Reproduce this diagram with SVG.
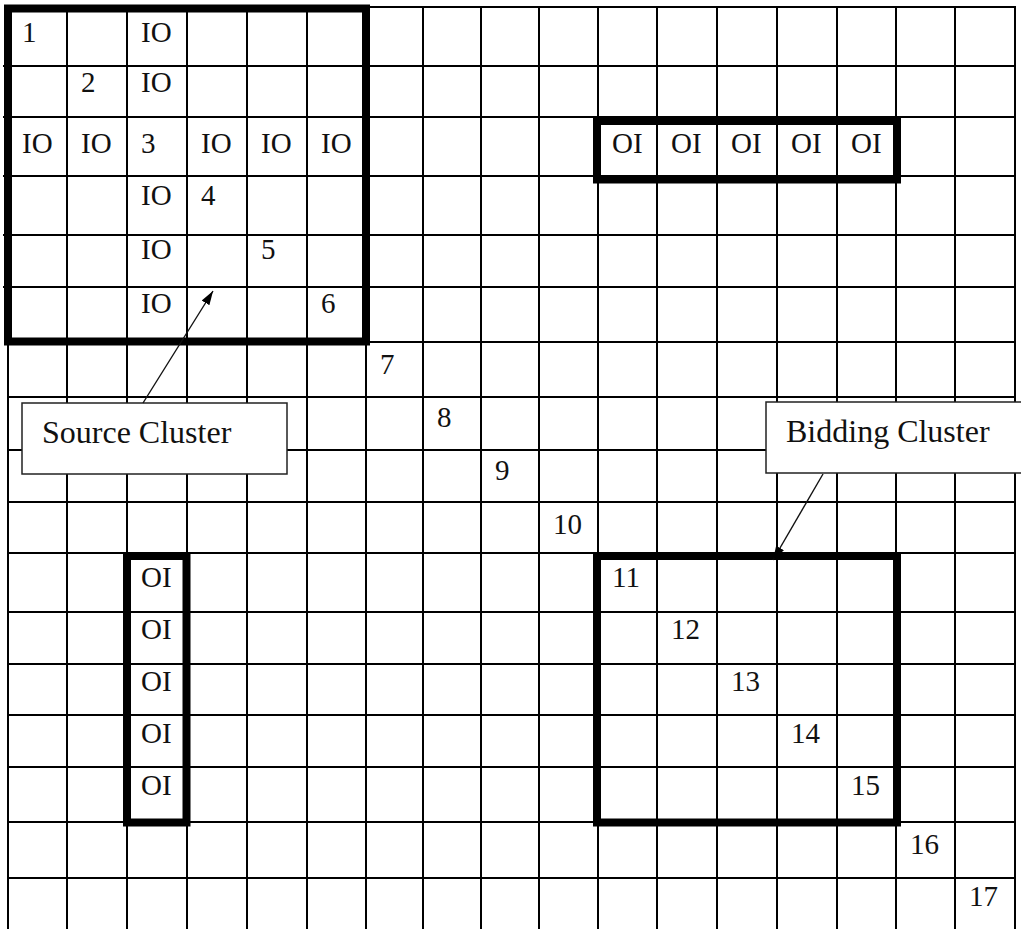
<svg xmlns="http://www.w3.org/2000/svg" width="1021" height="929" viewBox="0 0 1021 929">
  <style>
    .grid line { stroke: #000; stroke-width: 2; }
    .thick { fill: none; stroke: #000; stroke-width: 8; }
    .cell { font-family: "Liberation Serif", "Times New Roman", serif; font-size: 29px; fill: #111; }
    .label { font-family: "Liberation Serif", "Times New Roman", serif; font-size: 32px; fill: #111; }
    .callout { fill: #fff; stroke: #222; stroke-width: 1.5; }
    .conn { stroke: #111; stroke-width: 1.4; fill: none; }
  </style>
  <defs>
    <marker id="arrow" markerUnits="userSpaceOnUse" markerWidth="14" markerHeight="10" refX="14" refY="4.5" orient="auto">
      <path d="M0,0 L14,4.5 L0,9 Z" fill="#000"/>
    </marker>
  </defs>
  <rect width="1021" height="929" fill="#fff"/>

  <g id="grid" class="grid">
    <line x1="8" y1="7" x2="8" y2="929"/>
    <line x1="67" y1="7" x2="67" y2="929"/>
    <line x1="127" y1="7" x2="127" y2="929"/>
    <line x1="187" y1="7" x2="187" y2="929"/>
    <line x1="247" y1="7" x2="247" y2="929"/>
    <line x1="307" y1="7" x2="307" y2="929"/>
    <line x1="366" y1="7" x2="366" y2="929"/>
    <line x1="423" y1="7" x2="423" y2="929"/>
    <line x1="481" y1="7" x2="481" y2="929"/>
    <line x1="539" y1="7" x2="539" y2="929"/>
    <line x1="598" y1="7" x2="598" y2="929"/>
    <line x1="657" y1="7" x2="657" y2="929"/>
    <line x1="717" y1="7" x2="717" y2="929"/>
    <line x1="777" y1="7" x2="777" y2="929"/>
    <line x1="837" y1="7" x2="837" y2="929"/>
    <line x1="896" y1="7" x2="896" y2="929"/>
    <line x1="955" y1="7" x2="955" y2="929"/>
    <line x1="1015" y1="7" x2="1015" y2="929"/>
    <line x1="8" y1="7" x2="1016" y2="7"/>
    <line x1="3" y1="66" x2="1016" y2="66"/>
    <line x1="3" y1="117" x2="1016" y2="117"/>
    <line x1="3" y1="176" x2="1016" y2="176"/>
    <line x1="3" y1="235" x2="1016" y2="235"/>
    <line x1="3" y1="287" x2="1016" y2="287"/>
    <line x1="7" y1="342" x2="1016" y2="342"/>
    <line x1="7" y1="397" x2="1016" y2="397"/>
    <line x1="7" y1="450" x2="1016" y2="450"/>
    <line x1="7" y1="502" x2="1016" y2="502"/>
    <line x1="7" y1="553" x2="1016" y2="553"/>
    <line x1="7" y1="612" x2="1016" y2="612"/>
    <line x1="7" y1="664" x2="1016" y2="664"/>
    <line x1="7" y1="715" x2="1016" y2="715"/>
    <line x1="7" y1="767" x2="1016" y2="767"/>
    <line x1="7" y1="822" x2="1016" y2="822"/>
    <line x1="7" y1="878" x2="1016" y2="878"/>
  </g>

  <g id="cells" class="cell">
    <text x="22" y="42">1</text>
    <text x="141" y="42">IO</text>
    <text x="81" y="92">2</text>
    <text x="141" y="92">IO</text>
    <text x="22" y="153">IO</text>
    <text x="81" y="153">IO</text>
    <text x="141" y="153">3</text>
    <text x="201" y="153">IO</text>
    <text x="261" y="153">IO</text>
    <text x="321" y="153">IO</text>
    <text x="612" y="153">OI</text>
    <text x="671" y="153">OI</text>
    <text x="731" y="153">OI</text>
    <text x="791" y="153">OI</text>
    <text x="851" y="153">OI</text>
    <text x="141" y="205">IO</text>
    <text x="201" y="205">4</text>
    <text x="141" y="259">IO</text>
    <text x="261" y="259">5</text>
    <text x="141" y="313">IO</text>
    <text x="321" y="313">6</text>
    <text x="380" y="374">7</text>
    <text x="437" y="427">8</text>
    <text x="495" y="480">9</text>
    <text x="553" y="534">10</text>
    <text x="141" y="587">OI</text>
    <text x="612" y="587">11</text>
    <text x="141" y="639">OI</text>
    <text x="671" y="639">12</text>
    <text x="141" y="691">OI</text>
    <text x="731" y="691">13</text>
    <text x="141" y="743">OI</text>
    <text x="791" y="743">14</text>
    <text x="141" y="795">OI</text>
    <text x="851" y="795">15</text>
    <text x="910" y="854">16</text>
    <text x="969" y="906">17</text>
  </g>

  <g id="source-cluster">
    <rect class="thick" x="8" y="8.5" width="358" height="333"/>
  </g>
  <g id="oi-row">
    <rect class="thick" x="597" y="121" width="300" height="58.5"/>
  </g>
  <g id="oi-column">
    <rect class="thick" x="127" y="556" width="59.5" height="266.5"/>
  </g>
  <g id="bidding-cluster">
    <rect class="thick" x="597" y="556" width="300" height="266.5"/>
  </g>

  <g id="source-label">
    <rect class="callout" x="22" y="403" width="265" height="71"/>
    <text class="label" x="42" y="443">Source Cluster</text>
  </g>
  <g id="bidding-label">
    <rect class="callout" x="766" y="402" width="262" height="71"/>
    <text class="label" x="786" y="442">Bidding Cluster</text>
  </g>

  <g id="connectors">
    <line class="conn" x1="143" y1="403" x2="213" y2="291" marker-end="url(#arrow)"/>
    <line class="conn" x1="823" y1="474" x2="773" y2="560" marker-end="url(#arrow)"/>
  </g>
</svg>
